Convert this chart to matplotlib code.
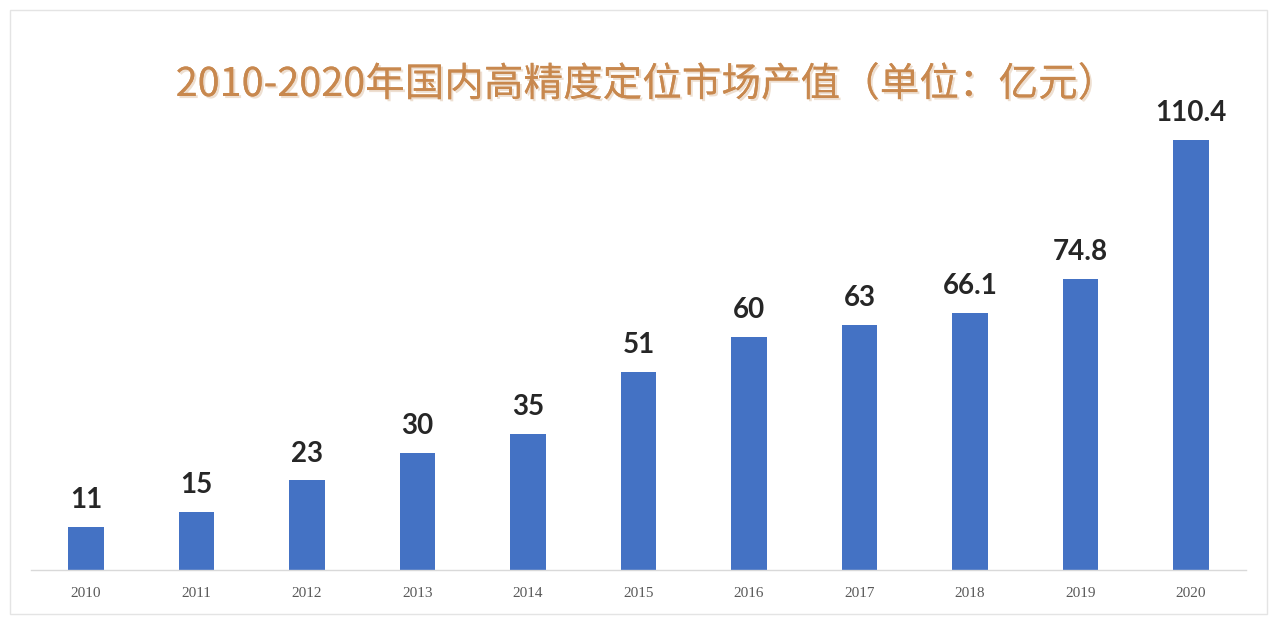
import matplotlib
matplotlib.use("Agg")
import matplotlib.pyplot as plt
import matplotlib.patheffects as pe
from matplotlib.patches import Rectangle

years = ["2010", "2011", "2012", "2013", "2014", "2015", "2016", "2017", "2018", "2019", "2020"]
values = [11, 15, 23, 30, 35, 51, 60, 63, 66.1, 74.8, 110.4]
labels = ["11", "15", "23", "30", "35", "51", "60", "63", "66.1", "74.8", "110.4"]
title = "2010-2020年国内高精度定位市场产值（单位：亿元）"

plt.rcParams['font.family'] = ['Noto Sans CJK SC', 'DejaVu Sans']

W, H = 1280, 624
fig = plt.figure(figsize=(W / 100, H / 100), dpi=100)
fig.patch.set_facecolor("white")

# faint outer frame
fig.patches.append(Rectangle((10 / W, 10 / H), 1257 / W, 604 / H, transform=fig.transFigure,
                             fill=False, edgecolor="#E4E4E4", linewidth=1.0))

left, right = 30.75, 1246.25
bottom_px, top_px = 570, 103
ax = fig.add_axes([left / W, (H - bottom_px) / H, (right - left) / W, (bottom_px - top_px) / H])
ax.set_facecolor("none")

x = list(range(len(years)))
bars = ax.bar(x, values, width=0.32, color="#4472C4", zorder=2)
ax.set_xlim(-0.5, len(years) - 0.5)
ax.set_ylim(0, 120)

for xi, v, lab in zip(x, values, labels):
    ax.annotate(lab, (xi, v), xytext=(0, 10), textcoords="offset points",
                ha="center", va="bottom", fontsize=20, fontweight="bold",
                color="#262626", family=["Lato", "Liberation Sans", "DejaVu Sans"])

ax.set_xticks(x)
ax.set_xticklabels(years, fontsize=11, color="#595959", family=["Liberation Serif", "DejaVu Serif"])
ax.tick_params(axis="x", length=0, pad=12)
ax.set_yticks([])
for s in ["left", "right", "top"]:
    ax.spines[s].set_visible(False)
ax.spines["bottom"].set_color("#D9D9D9")
ax.spines["bottom"].set_linewidth(1.0)

fig.text(647 / W, (H - 85) / H, title, ha="center", va="center", fontsize=28.5,
         color="#C8884E", fontweight="regular",
         path_effects=[pe.withSimplePatchShadow(offset=(1.5, -1.5), shadow_rgbFace="#EAD8C6", alpha=0.8),
                       pe.Normal()])

fig.savefig("out.png", dpi=100, facecolor="white")
